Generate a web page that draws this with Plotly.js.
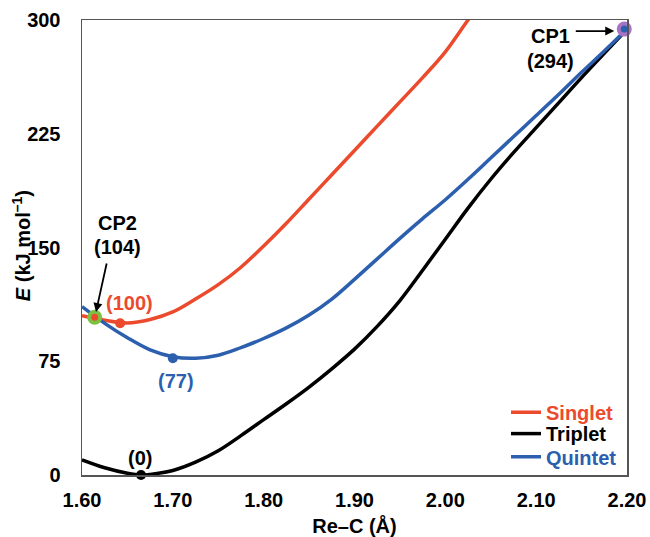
<!DOCTYPE html>
<html>
<head>
<meta charset="utf-8">
<script src="https://cdn.plot.ly/plotly-3.0.1.min.js"></script>
<style>html,body{margin:0;padding:0;background:#fff;}</style>
</head>
<body>
<div id="chart" style="width:650px;height:537px;"></div>
<script>
// Singlet
const singletX = [1.600, 1.625, 1.650, 1.675, 1.700, 1.725, 1.750, 1.775, 1.800, 1.825, 1.850, 1.875, 1.900, 1.925, 1.950, 1.975, 2.000, 2.025, 2.050];
const singletY = [105, 102, 100.2, 102.5, 107.5, 116, 125.5, 137, 151, 166, 182, 198, 214, 230, 246, 262, 279, 300, 320];
// Triplet
const tripletX = [1.600, 1.625, 1.650, 1.665, 1.675, 1.700, 1.725, 1.750, 1.775, 1.800, 1.825, 1.850, 1.875, 1.900, 1.925, 1.950, 1.975, 2.000, 2.025, 2.050, 2.075, 2.100, 2.125, 2.150, 2.175, 2.200];
const tripletY = [10, 4.8, 1.2, 0, 0.4, 3, 8.5, 16, 26, 36.5, 47, 58, 70, 83, 98, 115, 135, 155.5, 176, 195, 212.5, 229, 245.5, 262, 278, 294];
// Quintet
const quintetX = [1.600, 1.625, 1.650, 1.675, 1.700, 1.725, 1.750, 1.775, 1.800, 1.825, 1.850, 1.875, 1.900, 1.925, 1.950, 1.975, 2.000, 2.025, 2.050, 2.075, 2.100, 2.125, 2.150, 2.175, 2.200];
const quintetY = [111, 100, 90.5, 82.5, 78, 77, 79, 84, 90, 97, 105.5, 116, 129, 142.5, 156, 169, 181.5, 195, 209, 223, 237, 251, 265.5, 279.5, 294];
// Minima markers
const minSinglet = {x: 1.642, y: 100, label: '(100)'};
const minTriplet = {x: 1.665, y: 0, label: '(0)'};
const minQuintet = {x: 1.70, y: 77, label: '(77)'};
// Crossing points
const cp1 = {x: 2.197, y: 294, name: 'CP1', label: '(294)'};
const cp2 = {x: 1.614, y: 104, name: 'CP2', label: '(104)'};
const xTicks = [1.60, 1.70, 1.80, 1.90, 2.00, 2.10, 2.20];
const yTicks = [0, 75, 150, 225, 300];
const yTitle = '<i>E</i> (kJ mol<sup>–1</sup>)';
const xTitle = 'Re–C (Å)';

const RED = '#ec4a2c', BLUE = '#2c5fae', BLACK = '#000000';
const FONT = 'Liberation Sans, Arial, Helvetica, sans-serif';
const FS = 20;

const lineStyle = (c) => ({color: c, width: 3.5, shape: 'spline', smoothing: 1});

const traces = [
  {x: singletX, y: singletY, mode: 'lines', line: lineStyle(RED), legend: 'legend',
   name: '<span style="color:' + RED + '">Singlet</span>'},
  {x: tripletX, y: tripletY, mode: 'lines', line: lineStyle(BLACK), legend: 'legend2',
   name: '<span style="color:' + BLACK + '">Triplet</span>'},
  {x: quintetX, y: quintetY, mode: 'lines', line: lineStyle(BLUE), legend: 'legend3',
   name: '<span style="color:' + BLUE + '">Quintet</span>'},
  {x: [cp2.x], y: [cp2.y], mode: 'markers', showlegend: false, cliponaxis: false,
   marker: {size: 15, color: '#7cc242'}},
  {x: [cp2.x], y: [cp2.y], mode: 'markers', showlegend: false, cliponaxis: false,
   marker: {size: 7, color: RED}},
  {x: [cp1.x], y: [cp1.y], mode: 'markers', showlegend: false, cliponaxis: false,
   marker: {size: 15, color: '#a873c4'}},
  {x: [cp1.x], y: [cp1.y], mode: 'markers', showlegend: false, cliponaxis: false,
   marker: {size: 7, color: BLUE}},
  {x: [minSinglet.x], y: [minSinglet.y], mode: 'markers', showlegend: false, cliponaxis: false,
   marker: {size: 10, color: RED}},
  {x: [minQuintet.x], y: [minQuintet.y], mode: 'markers', showlegend: false, cliponaxis: false,
   marker: {size: 10, color: BLUE}},
  {x: [minTriplet.x], y: [minTriplet.y], mode: 'markers', showlegend: false, cliponaxis: false,
   marker: {size: 10, color: BLACK}}
];

const annFont = (c) => ({family: FONT, size: FS, color: c, weight: 'bold'});

const annotations = [
  {x: 2.116, y: 289.4, text: cp1.name, showarrow: false, font: annFont(BLACK)},
  {x: 2.116, y: 273, text: cp1.label, showarrow: false, font: annFont(BLACK)},
  {x: 2.186, y: 292.7, ax: -40, ay: 0, text: '', showarrow: true, arrowhead: 2, arrowsize: 1, arrowwidth: 1.8, arrowcolor: BLACK},
  {x: 1.6396, y: 166.1, text: cp2.name, showarrow: false, font: annFont(BLACK)},
  {x: 1.6396, y: 150.3, text: cp2.label, showarrow: false, font: annFont(BLACK)},
  {x: 1.6154, y: 107.5, ax: 11, ay: -50, text: '', showarrow: true, arrowhead: 2, arrowsize: 1, arrowwidth: 1.8, arrowcolor: BLACK},
  {x: 1.6528, y: 113.4, text: minSinglet.label, showarrow: false, font: annFont(RED)},
  {x: 1.7035, y: 62, text: minQuintet.label, showarrow: false, font: annFont(BLUE)},
  {x: 1.6639, y: 11.2, text: minTriplet.label, showarrow: false, font: annFont(BLACK)},
  {xref: 'paper', yref: 'paper', x: -0.112, y: 0.505, xanchor: 'center', yanchor: 'middle',
   textangle: -90, text: yTitle, showarrow: false, font: annFont(BLACK)}
];

const legBase = (y) => ({x: 0.778, xanchor: 'left', y: y, yanchor: 'middle', bgcolor: 'rgba(0,0,0,0)',
  borderwidth: 0, font: {family: FONT, size: FS, weight: 'bold'}, itemwidth: 30});

const layout = {
  width: 650, height: 537,
  margin: {l: 82, r: 23, t: 20, b: 62},
  paper_bgcolor: '#fff', plot_bgcolor: '#fff',
  font: {family: FONT, size: FS, color: '#000', weight: 'bold'},
  showlegend: true,
  legend: legBase(0.138),
  legend2: legBase(0.091),
  legend3: legBase(0.040),
  xaxis: {range: [1.60, 2.20], tickvals: xTicks, ticktext: xTicks.map(v => v.toFixed(2)),
          showgrid: false, zeroline: false, showline: true, linecolor: '#555', linewidth: 1.5, mirror: true,
          ticks: '', ticklabelstandoff: 6,
          tickfont: {family: FONT, size: FS, weight: 'bold'},
          title: {text: xTitle, font: {family: FONT, size: FS, weight: 'bold'}, standoff: 18}},
  yaxis: {range: [0, 300], tickvals: yTicks, ticktext: yTicks.map(String),
          showgrid: false, zeroline: false, showline: true, linecolor: '#555', linewidth: 1.5, mirror: true,
          ticks: 'outside', ticklen: 16, tickcolor: 'rgba(0,0,0,0)', ticklabelstandoff: 0,
          tickfont: {family: FONT, size: FS, weight: 'bold'}},
  annotations: annotations
};

Plotly.newPlot('chart', traces, layout, {displayModeBar: false, staticPlot: true});
</script>
</body>
</html>
